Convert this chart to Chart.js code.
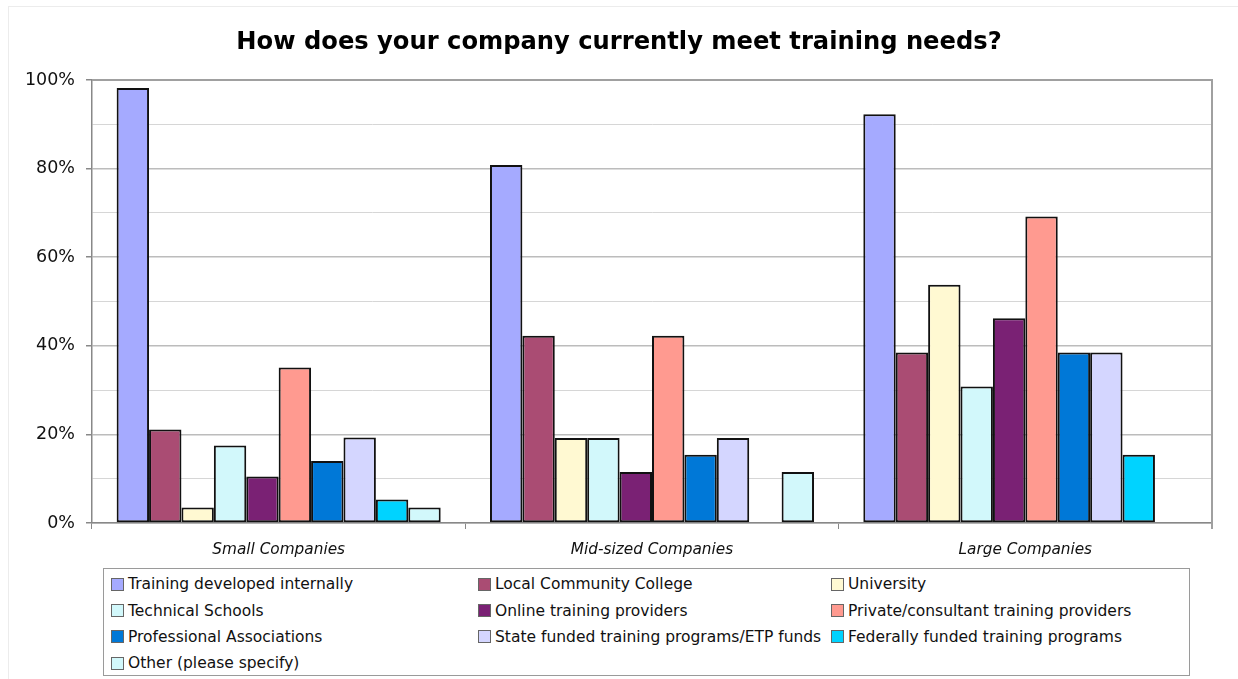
<!DOCTYPE html>
<html>
<head>
<meta charset="utf-8">
<title>How does your company currently meet training needs?</title>
<script src="https://cdn.jsdelivr.net/npm/chart.js@4/dist/chart.umd.min.js"></script>
<style>
    html, body { margin: 0; padding: 0; background: #fff; }
    #wrap { position: relative; width: 1238px; height: 679px; overflow: hidden; }
    #frame { position: absolute; left: 8px; top: 6px; width: 1300px; height: 700px; border: 1px solid #ececec; }
    #chart { position: absolute; left: 0; top: 0; }
    #legend {
        position: absolute; left: 103px; top: 568px; width: 1087px; height: 108px;
        border: 1px solid #9a9a9a; background: #fff; box-sizing: border-box;
        font-family: "DejaVu Sans", sans-serif; font-size: 15.5px; color: #111;
        display: grid; grid-template-columns: 367px 353px auto; grid-auto-rows: 26.4px;
        padding: 2px 0 0 7px;
    }
    #legend .item { display: flex; align-items: center; white-space: nowrap; }
    #legend .box { width: 13px; height: 13px; border: 1px solid #666; box-sizing: border-box; margin-right: 4px; flex: none; }
</style>
</head>
<body>
<div id="wrap">
    <div id="frame"></div>
    <canvas id="chart" width="1238" height="679"></canvas>
    <div id="legend"></div>
</div>
<script>
// Company size groups along the x axis
const categories = ['Small Companies', 'Mid-sized Companies', 'Large Companies'];

// Ways of meeting training needs (one bar series each)
const seriesNames = [
    'Training developed internally',
    'Local Community College',
    'University',
    'Technical Schools',
    'Online training providers',
    'Private/consultant training providers',
    'Professional Associations',
    'State funded training programs/ETP funds',
    'Federally funded training programs',
    'Other (please specify)'
];

// Share of respondents (%) per group, in seriesNames order
const smallCompanies = [98.2, 21.1, 3.5, 17.5, 10.5, 35.1, 14.0, 19.3, 5.3, 3.5];
const midCompanies   = [80.8, 42.3, 19.2, 19.2, 11.5, 42.3, 15.4, 19.2, 0, 11.5];
const largeCompanies = [92.3, 38.5, 53.8, 30.8, 46.2, 69.2, 38.5, 38.5, 15.4, 0];

const seriesColors = [
    '#a5aaff', '#aa4c73', '#fff9d2', '#d2f8fb', '#7a2174',
    '#ff9a90', '#0078d7', '#d4d6ff', '#00d3ff', '#d2f8fb'
];

const yTicks = [0, 20, 40, 60, 80, 100];

const datasets = seriesNames.map((name, i) => ({
    label: name,
    data: [smallCompanies[i], midCompanies[i], largeCompanies[i]],
    backgroundColor: seriesColors[i],
    borderColor: '#111',
    borderWidth: 2,
    borderSkipped: false,
    categoryPercentage: 0.868,
    barPercentage: 1.0
}));

// top and right edges of the plot area
const plotFrame = {
    id: 'plotFrame',
    beforeDatasetsDraw(chart) {
        const { ctx, chartArea: a } = chart;
        ctx.save();
        ctx.strokeStyle = '#a0a0a0';
        ctx.lineWidth = 2;
        ctx.beginPath();
        ctx.moveTo(a.left, a.top);
        ctx.lineTo(a.right, a.top);
        ctx.lineTo(a.right, a.bottom + 6);
        ctx.stroke();
        ctx.restore();
    }
};

const chart = new Chart(document.getElementById('chart'), {
    type: 'bar',
    data: { labels: categories, datasets },
    plugins: [plotFrame],
    options: {
        responsive: false,
        animation: false,
        layout: { padding: { left: 26, right: 26, top: 0, bottom: 114 } },
        plugins: {
            legend: { display: false },
            tooltip: { enabled: false },
            title: {
                display: true,
                text: 'How does your company currently meet training needs?',
                color: '#000',
                font: { family: 'DejaVu Sans', size: 24.2, weight: 'bold', lineHeight: 1.2 },
                padding: { top: 28, bottom: 23 }
            }
        },
        scales: {
            x: {
                afterFit(scale) { scale.height = 42; },
                grid: {
                    offset: true,
                    drawOnChartArea: false,
                    drawTicks: true,
                    tickLength: 6,
                    color: '#888'
                },
                border: { color: '#888', width: 1.5 },
                ticks: {
                    color: '#111',
                    padding: 12,
                    font: { family: 'DejaVu Sans', size: 15.3, style: 'italic' }
                }
            },
            y: {
                min: 0,
                max: 100,
                afterFit(scale) { scale.width = 66; },
                ticks: {
                    stepSize: 10,
                    color: '#111',
                    padding: 11,
                    font: { family: 'DejaVu Sans', size: 17.5 },
                    callback: v => yTicks.includes(v) ? v + '%' : ''
                },
                grid: {
                    tickLength: 6,
                    color: c => c.tick.value % 20 === 0 ? '#bcbcbc' : '#d6d6d6',
                    lineWidth: c => c.tick.value % 20 === 0 ? 1.5 : 1,
                    tickColor: c => c.tick.value % 20 === 0 ? '#888' : 'rgba(0,0,0,0)'
                },
                border: { color: '#888', width: 1.5 }
            }
        }
    }
});

// legend laid out in three columns, filled row by row
const legendEl = document.getElementById('legend');
chart.data.datasets.forEach(ds => {
    const item = document.createElement('div');
    item.className = 'item';
    const box = document.createElement('span');
    box.className = 'box';
    box.style.background = ds.backgroundColor;
    item.appendChild(box);
    item.appendChild(document.createTextNode(ds.label));
    legendEl.appendChild(item);
});
</script>
</body>
</html>
